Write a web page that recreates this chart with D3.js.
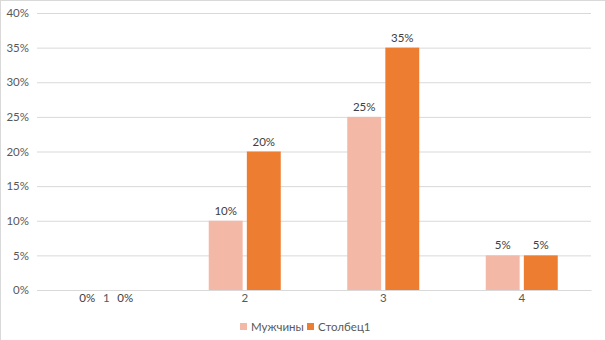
<!DOCTYPE html>
<html>
<head>
<meta charset="utf-8">
<script src="https://cdn.jsdelivr.net/npm/d3@7"></script>
<style>
  body { margin: 0; background: #fff; }
  svg text { font-family: Lato, "Open Sans", sans-serif; }
</style>
</head>
<body>
<div id="chart"></div>
<script>
// chart data
const categories = ['1', '2', '3', '4'];
const seriesNames = ['Мужчины', 'Столбец1'];
const men = [0, 0.10, 0.25, 0.05];
const col1 = [0, 0.20, 0.35, 0.05];
const yTicks = [0, 0.05, 0.10, 0.15, 0.20, 0.25, 0.30, 0.35, 0.40];

const width = 605, height = 340;
const margin = {top: 13, right: 14, bottom: 50, left: 37};
const color = ['#F4B8A6', '#ED7D31'];

const svg = d3.select('#chart').append('svg')
  .attr('width', width).attr('height', height);

svg.append('rect')
  .attr('x', 0.5).attr('y', 0.5)
  .attr('width', width).attr('height', height)
  .attr('fill', 'none').attr('stroke', '#d9d9d9');

const innerW = width - margin.left - margin.right;
const innerH = height - margin.top - margin.bottom;

const g = svg.append('g')
  .attr('transform', 'translate(' + margin.left + ',' + margin.top + ')');

const x = d3.scaleBand().domain(categories).range([0, innerW]).padding(0);
const y = d3.scaleLinear().domain([0, 0.40]).range([innerH, 0]);
const xs = d3.scaleBand().domain(seriesNames).range([x.bandwidth() / 2 - 36, x.bandwidth() / 2 + 36])
  .paddingInner(0.11).paddingOuter(0);

const fmt = d3.format('.0%');

// gridlines + y labels
const axisY = g.append('g')
  .call(d3.axisLeft(y).tickValues(yTicks).tickFormat(fmt).tickSize(-innerW).tickPadding(8));
axisY.select('.domain').remove();
axisY.selectAll('.tick line').attr('stroke', '#d9d9d9');
axisY.selectAll('.tick text').attr('fill', '#595959').attr('font-size', 11.5);

// x axis
const axisX = g.append('g')
  .attr('transform', 'translate(0,' + innerH + ')')
  .call(d3.axisBottom(x).tickSize(0).tickPadding(4));
axisX.select('.domain').attr('stroke', '#d9d9d9');
axisX.selectAll('.tick text').attr('fill', '#595959').attr('font-size', 11.5);

const data = categories.map((c, i) => ({cat: c, vals: [
  {name: seriesNames[0], v: men[i], c: color[0]},
  {name: seriesNames[1], v: col1[i], c: color[1]}
]}));

const groups = g.selectAll('g.cat').data(data).enter().append('g')
  .attr('class', 'cat')
  .attr('transform', d => 'translate(' + x(d.cat) + ',0)');

groups.selectAll('rect').data(d => d.vals).enter().append('rect')
  .attr('x', d => xs(d.name))
  .attr('width', xs.bandwidth())
  .attr('y', d => y(d.v))
  .attr('height', d => innerH - y(d.v))
  .attr('fill', d => d.c);

groups.selectAll('text.lbl').data(d => d.vals).enter().append('text')
  .attr('class', 'lbl')
  .attr('x', d => xs(d.name) + xs.bandwidth() / 2)
  .attr('y', d => d.v > 0 ? y(d.v) - 6 : innerH + 12)
  .attr('text-anchor', 'middle')
  .attr('font-size', 11.5)
  .attr('fill', '#404040')
  .text(d => fmt(d.v));

// legend
const legend = svg.append('g').attr('transform', 'translate(240,322)');
const items = [{name: seriesNames[0], c: color[0], x: 0}, {name: seriesNames[1], c: color[1], x: 67}];
items.forEach(it => {
  legend.append('rect').attr('x', it.x).attr('y', 1).attr('width', 7).attr('height', 7).attr('fill', it.c);
  legend.append('text').attr('x', it.x + 11).attr('y', 9)
    .attr('font-size', 11.5).attr('fill', '#595959').text(it.name);
});
</script>
</body>
</html>
